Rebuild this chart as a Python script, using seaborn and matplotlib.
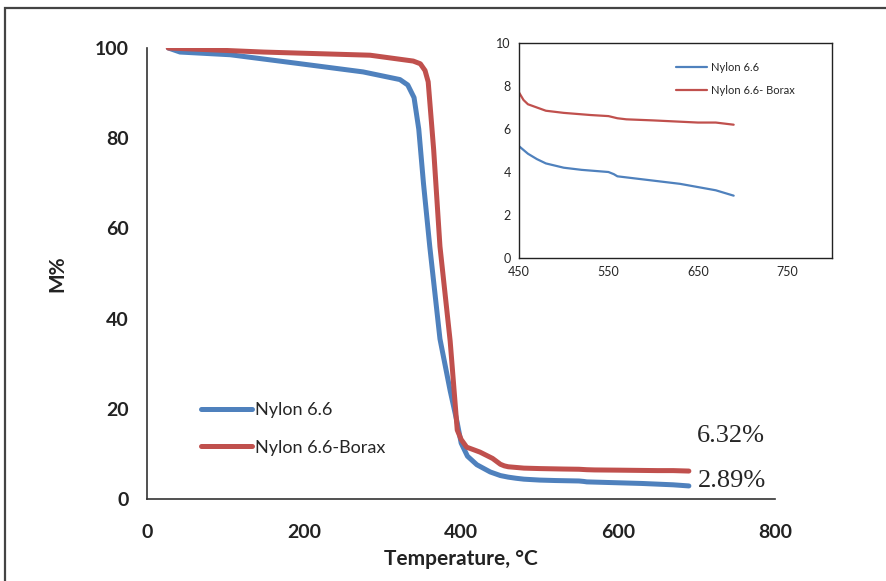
import matplotlib

matplotlib.use("Agg")

import matplotlib.pyplot as plt
import pandas as pd
import seaborn as sns
from matplotlib.patches import Rectangle

# TGA curves (temperature in degC, residual mass in %)
nylon_temp = [27, 42, 106, 191, 275, 322, 332, 340, 346, 352, 360, 373, 386, 395, 400,
              408, 420, 437, 450, 460, 470, 480, 490, 500, 520, 550, 556, 560, 600, 630, 650, 670, 690]
nylon_mass = [100, 99.1, 98.5, 96.6, 94.7, 93.0, 91.8, 89.0, 82.0, 70, 56, 35.5, 24, 16.9, 12.4,
              9.5, 7.6, 6.0, 5.2, 4.85, 4.6, 4.4, 4.3, 4.2, 4.1, 4.0, 3.9, 3.8, 3.6, 3.45, 3.3, 3.15, 2.9]

borax_temp = [27, 148, 284, 339, 348, 354, 358, 365, 373, 386, 395, 400, 407, 424, 440,
              450, 455, 460, 470, 480, 500, 530, 550, 560, 570, 600, 650, 670, 690]
borax_mass = [100, 99.1, 98.4, 97.1, 96.5, 95.0, 92.5, 77.4, 56, 35, 15.3, 13.2, 11.5, 10.4, 9.0,
              7.7, 7.35, 7.15, 7.0, 6.85, 6.75, 6.65, 6.6, 6.5, 6.45, 6.4, 6.3, 6.3, 6.2]

series_labels = ["Nylon 6.6", "Nylon 6.6-Borax"]
inset_labels = ["Nylon 6.6", "Nylon 6.6- Borax"]
residue_labels = ["6.32%", "2.89%"]

BLUE = "#4F81BD"
RED = "#C0504D"

sns.set_style("white")
plt.rcParams["font.family"] = ["Lato", "DejaVu Sans"]

nylon = pd.DataFrame({"temp": nylon_temp, "mass": nylon_mass})
borax = pd.DataFrame({"temp": borax_temp, "mass": borax_mass})

fig = plt.figure(figsize=(8.86, 5.81), dpi=100)
fig.patches.append(Rectangle((5 / 886, -0.05), 1.0, 1 - 8 / 581 + 0.05, transform=fig.transFigure,
                             fill=False, edgecolor="#444444", linewidth=1.6))

ax = fig.add_axes([0.166, 0.1411, 0.709, 0.7763])
line_kw = dict(solid_joinstyle="round", solid_capstyle="round")
sns.lineplot(data=nylon, x="temp", y="mass", color=BLUE, linewidth=3.6, label=series_labels[0],
             ax=ax, **line_kw)
sns.lineplot(data=borax, x="temp", y="mass", color=RED, linewidth=3.6, label=series_labels[1],
             ax=ax, **line_kw)
ax.set_xlim(0, 800)
ax.set_ylim(0, 100)
ax.set_xticks(range(0, 801, 200))
ax.set_yticks(range(0, 101, 20))
for side in ["top", "right"]:
    ax.spines[side].set_visible(False)
for side in ["left", "bottom"]:
    ax.spines[side].set_color("#333333")
    ax.spines[side].set_linewidth(1.2)
ax.tick_params(axis="both", direction="out", length=5, width=1.2, color="#333333",
               labelsize=14, labelcolor="#222222")
ax.tick_params(axis="x", pad=13)
ax.tick_params(axis="y", pad=8)
for lbl in ax.get_xticklabels() + ax.get_yticklabels():
    lbl.set_fontweight("bold")
ax.set_xlabel("Temperature, °C", fontsize=15, fontweight="bold", color="#222222", labelpad=6)
ax.set_ylabel("M%", fontsize=15, fontweight="bold", color="#222222", labelpad=20)
ax.legend(loc="lower left", bbox_to_anchor=(0.06, 0.06), frameon=False, fontsize=13,
          handlelength=2.8, handletextpad=0.2, labelspacing=1.2)

ax.text(700, 14, residue_labels[0], family=["Liberation Serif"], fontsize=19, va="center",
        clip_on=False)
ax.text(702, 4.0, residue_labels[1], family=["Liberation Serif"], fontsize=19, va="center",
        clip_on=False)

# zoomed-in residue region
ins = fig.add_axes([0.5858, 0.5559, 0.3533, 0.3701])
sns.lineplot(data=nylon, x="temp", y="mass", color=BLUE, linewidth=1.6, label=inset_labels[0], ax=ins)
sns.lineplot(data=borax, x="temp", y="mass", color=RED, linewidth=1.6, label=inset_labels[1], ax=ins)
ins.set_xlim(450, 800)
ins.set_ylim(0, 10)
ins.set_xticks(range(450, 751, 100))
ins.set_yticks(range(0, 11, 2))
ins.set_xlabel("")
ins.set_ylabel("")
for side in ins.spines.values():
    side.set_color("#222222")
    side.set_linewidth(1.0)
ins.tick_params(axis="both", direction="out", length=3, width=0.8, labelsize=9, pad=3)
ins.legend(loc="upper left", bbox_to_anchor=(0.47, 0.96), frameon=False, fontsize=8,
           handlelength=2.8, handletextpad=0.3, labelspacing=1.1)

fig.savefig("out.png", dpi=100)
